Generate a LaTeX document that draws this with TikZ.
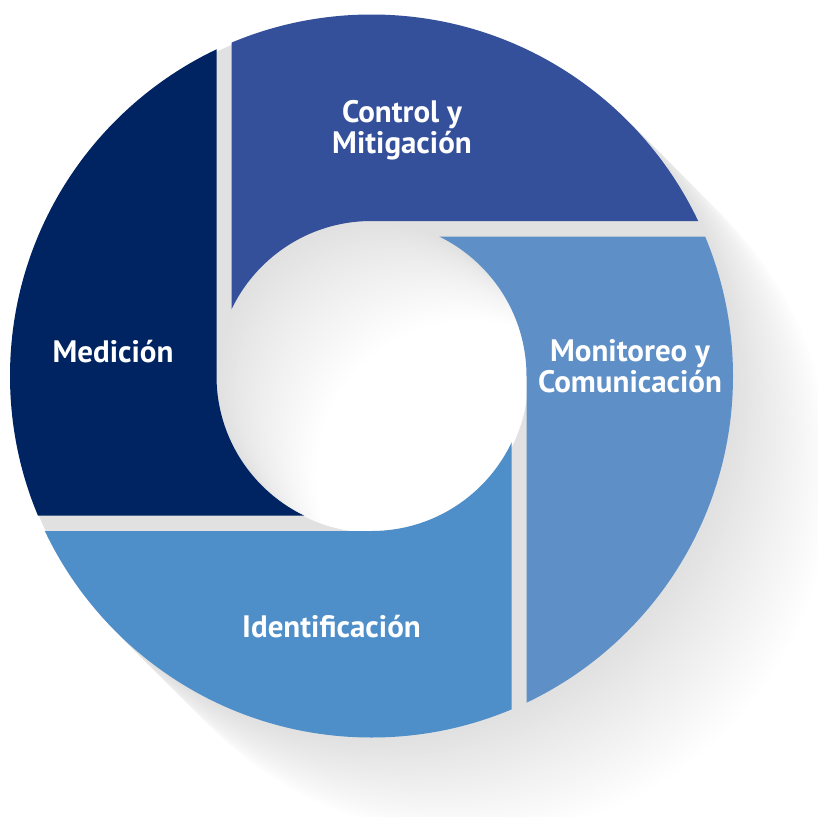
\documentclass[tikz,border=0pt]{standalone}
\usepackage{fontspec}
\setmainfont{PT Sans}
\definecolor{ctrlc}{RGB}{53,80,155}
\definecolor{medc}{RGB}{0,36,98}
\definecolor{monic}{RGB}{94,143,198}
\definecolor{idenc}{RGB}{78,142,201}
\tikzset{
  ringfill/.style={even odd rule},
  lbl/.style={text=white, font=\bfseries\fontsize{31}{31}\selectfont, align=center, inner sep=0pt}
}
\newcommand{\ringpath}[1]{(#1) circle[radius=361.5pt] (#1) circle[radius=155pt]}
\begin{document}
\begin{tikzpicture}[x=1pt,y=-1pt]
\useasboundingbox (0,0) rectangle (817,817);
\coordinate (C) at (371.5,376);
% long shadow
\foreach \i in {60,59,...,1}{
  \pgfmathsetmacro{\s}{\i*100/60}
  \pgfmathsetmacro{\g}{12*(1-\i/60)}
  \coordinate (S) at ([shift={(\s pt,-\s pt)}]C);
  \fill[black!\g, ringfill] \ringpath{S};
}
% segments
\begin{scope}
  \clip (231.5,-10) -- (830,-10) -- (830,221) -- (371.5,221) -- (371.5,376) -- (231.5,376) -- cycle;
  \fill[ctrlc, ringfill] \ringpath{C};
\end{scope}
\begin{scope}
  \clip (371.5,236.5) -- (830,236.5) -- (830,830) -- (526.5,830) -- (526.5,376) -- (371.5,376) -- cycle;
  \fill[monic, ringfill] \ringpath{C};
\end{scope}
\begin{scope}
  \clip (511.5,376) -- (511.5,830) -- (-10,830) -- (-10,531) -- (371.5,531) -- (371.5,376) -- cycle;
  \fill[idenc, ringfill] \ringpath{C};
\end{scope}
\begin{scope}
  \clip (371.5,515.5) -- (-10,515.5) -- (-10,-10) -- (216.5,-10) -- (216.5,376) -- (371.5,376) -- cycle;
  \fill[medc, ringfill] \ringpath{C};
\end{scope}
% labels
\node[lbl] (ctrl) at (402,130.5) {Control y\\Mitigación};
\node[lbl] (moni) at (630,366) {Monitoreo y\\Comunicación};
\node[lbl, anchor=base] (med) at (113,362) {Medición};
\node[lbl, anchor=base] (iden) at (331.5,637) {Identificación};
\end{tikzpicture}
\end{document}
